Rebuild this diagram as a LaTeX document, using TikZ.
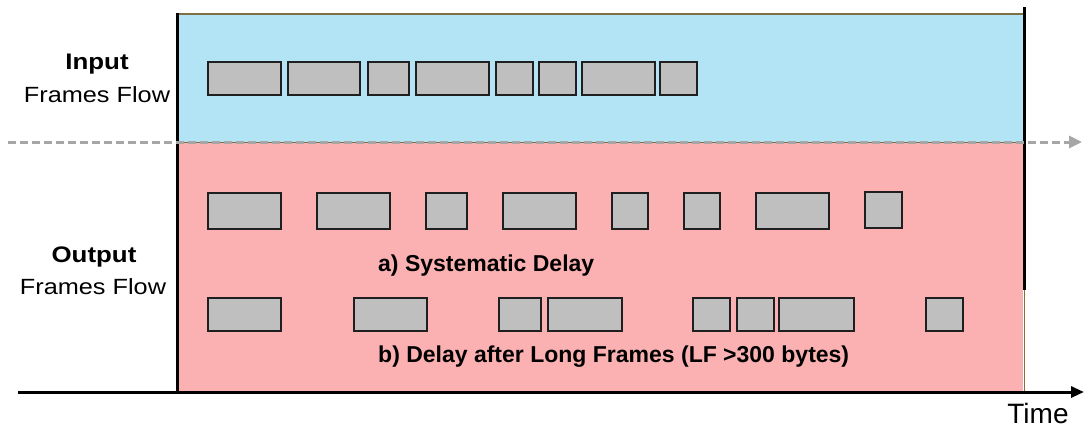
\documentclass[tikz,border=0pt]{standalone}
\usepackage{fontspec}
\setmainfont{Liberation Sans}
\newfontfamily\lblfont[FakeStretch=1.15]{Liberation Sans}
\usetikzlibrary{arrows.meta}
\definecolor{inblue}{HTML}{B3E4F6}
\definecolor{outpink}{HTML}{FBB1B1}
\definecolor{framegray}{HTML}{BFBFBF}
\definecolor{edgebrown}{HTML}{7F6F45}
\definecolor{dashgray}{HTML}{A6A6A6}
\tikzset{
  frm/.style={draw=black!88, line width=2.1pt, fill=framegray, inner sep=0pt, outer sep=0pt},
  sidelbl/.style={anchor=base, inner sep=0pt, font=\lblfont\fontsize{22}{26}\selectfont},
  sidebold/.style={anchor=base, inner sep=0pt, font=\lblfont\bfseries\fontsize{22.5}{26}\selectfont},
  caselbl/.style={anchor=base west, inner sep=0pt, font=\bfseries\fontsize{23}{27}\selectfont},
  timelbl/.style={anchor=base, inner sep=0pt, font=\fontsize{28}{32}\selectfont},
  axisline/.style={line width=3pt, -{Triangle[length=13pt,width=11pt]}},
  dashline/.style={draw=dashgray, line width=3pt, dash pattern=on 8pt off 4pt, -{Triangle[length=13pt,width=12pt]}}
}
\newcommand{\frbox}[5]{\node[frm, minimum width={#3pt-#2pt}, minimum height={#5pt-#4pt}] (#1) at ({(#2+#3)/2},{(#4+#5)/2}) {};}
\begin{document}
\begin{tikzpicture}[x=1pt,y=-1pt]
\useasboundingbox (0,0) rectangle (1084,429);
% regions
\fill[inblue] (177,14) rectangle (1023,142);
\fill[outpink] (177,142) rectangle (1023,392);
\draw[edgebrown, line width=1.7pt] (177,14) -- (1023,14);
\draw[edgebrown, line width=1pt] (177,142) -- (1023,142);
\draw[edgebrown, line width=1pt] (1024,290) -- (1024,392);
\draw[black, line width=3pt] (177,13) -- (177,392);
\draw[black, line width=3pt] (1024,7) -- (1024,290);
% flow separator
\coordinate (dS) at (8,142);
\coordinate (dE) at (1082,142);
\draw[dashline] (dS) -- (dE);
% time axis
\coordinate (aS) at (18,392);
\coordinate (aE) at (1084,392);
\draw[axisline] (aS) -- (aE);
% input frames
\frbox{i1}{208}{281}{62}{95}
\frbox{i2}{288}{360}{62}{95}
\frbox{i3}{368}{409}{62}{95}
\frbox{i4}{416}{489}{62}{95}
\frbox{i5}{496}{533}{62}{95}
\frbox{i6}{539}{576}{62}{95}
\frbox{i7}{582}{655}{62}{95}
\frbox{i8}{660}{697}{62}{95}
% output a)
\frbox{a1}{208}{281}{193}{229}
\frbox{a2}{317}{390}{193}{229}
\frbox{a3}{426}{467}{193}{229}
\frbox{a4}{503}{576}{193}{229}
\frbox{a5}{612}{648}{193}{229}
\frbox{a6}{684}{720}{193}{229}
\frbox{a7}{756}{829}{193}{229}
\frbox{a8}{865}{902}{192}{228}
% output b)
\frbox{b1}{208}{281}{298}{331}
\frbox{b2}{354}{427}{298}{331}
\frbox{b3}{499}{541}{298}{331}
\frbox{b4}{548}{622}{298}{331}
\frbox{b5}{693}{730}{298}{331}
\frbox{b6}{737}{774}{298}{331}
\frbox{b7}{779}{854}{298}{331}
\frbox{b8}{926}{963}{298}{331}
% labels
\node[sidebold] (inT) at (97,69) {Input};
\node[sidelbl] (inF) at (97,102) {Frames Flow};
\node[sidebold] (outT) at (94,262) {Output};
\node[sidelbl] (outF) at (93,294) {Frames Flow};
\node[caselbl] (la) at (378,271.5) {a) Systematic Delay};
\node[caselbl] (lb) at (378,362) {b) Delay after Long Frames (LF >300 bytes)};
\node[timelbl] (tm) at (1038,423) {Time};
\end{tikzpicture}
\end{document}
